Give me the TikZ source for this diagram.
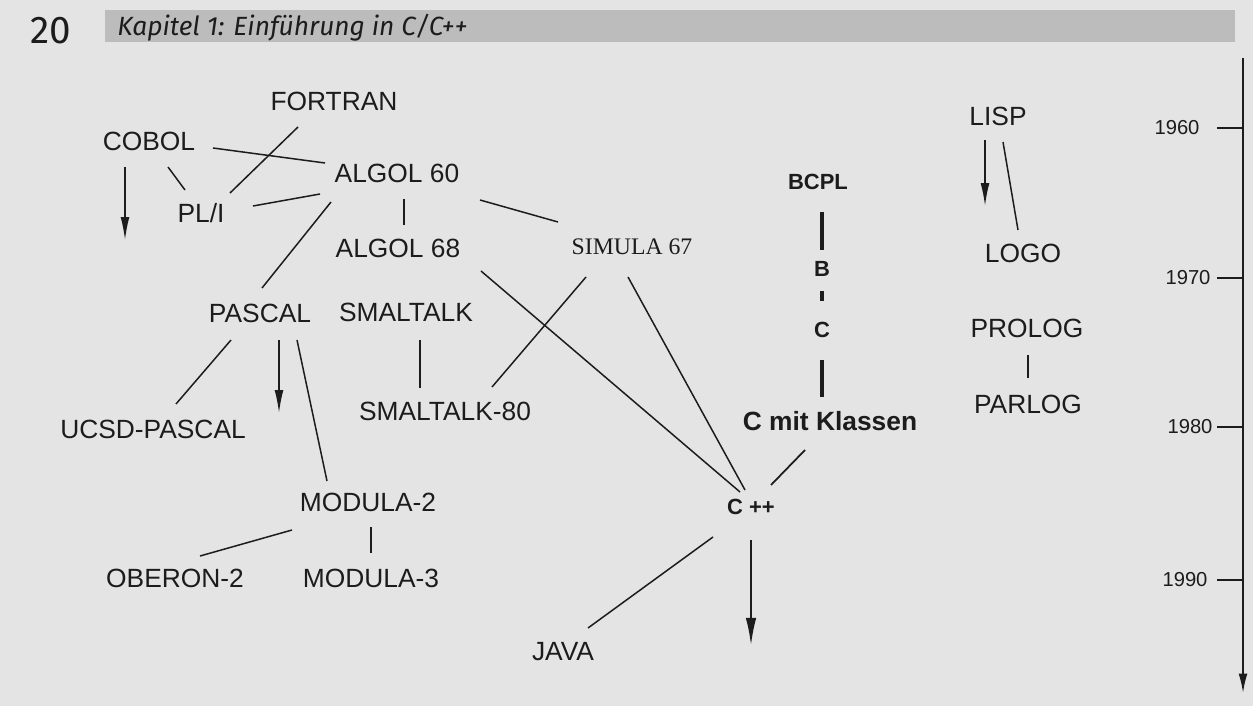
\documentclass[tikz,border=0pt]{standalone}
\usepackage{fontspec}
\setmainfont{Liberation Sans}
\newfontfamily\timesfont{Liberation Serif}
\newfontfamily\hdrfont{Fira Sans}
\usetikzlibrary{arrows.meta}
\definecolor{paper}{RGB}{228,228,228}
\definecolor{ink}{RGB}{28,28,28}
\definecolor{barcol}{RGB}{188,188,188}
\begin{document}
\begin{tikzpicture}[x=0.02cm,y=-0.02cm,
  lang/.style={font=\fontsize{15}{18}\selectfont, inner sep=0pt, text height=10.8pt, text depth=0pt, text=ink},
  langserif/.style={font={\timesfont\fontsize{13.5}{16}\selectfont}, inner sep=0pt, text height=9pt, text depth=0pt, text=ink},
  langbold/.style={font={\bfseries\fontsize{15}{18}\selectfont}, inner sep=0pt, text height=10.8pt, text depth=0pt, text=ink},
  langsmallbold/.style={font={\bfseries\fontsize{12.5}{15}\selectfont}, inner sep=0pt, text height=9pt, text depth=0pt, text=ink},
  yearlbl/.style={font=\fontsize{11.5}{14}\selectfont, inner sep=0pt, text=ink},
  link/.style={draw=ink, line width=0.85pt},
  thicklink/.style={draw=ink, line width=1.8pt},
  descent/.style={draw=ink, line width=0.9pt, -{Latex[length=13pt,width=5pt]}},
  bigdescent/.style={draw=ink, line width=1.4pt, -{Latex[length=16pt,width=6pt]}},
  timeaxis/.style={draw=ink, line width=1pt, -{Latex[length=11pt,width=5pt]}},
  tickmark/.style={draw=ink, line width=0.8pt}
]
\useasboundingbox (0,0) rectangle (1253,706);
\fill[paper] (0,0) rectangle (1253,706);

% header
\fill[barcol] (105,10) rectangle (1235,42);
\node[font={\hdrfont\fontsize{22}{26}\selectfont}, text=ink, inner sep=0pt] (pagenum) at (51,31) {20};
\node[font={\hdrfont\itshape\fontsize{15}{18}\selectfont}, text=ink, inner sep=0pt, anchor=west] (chapter) at (117,28) {Kapitel 1: Einführung in C/C++};

% language nodes
\node[lang] (fortran) at (334,101) {FORTRAN};
\node[lang] (cobol) at (149,141) {COBOL};
\node[lang] (algolsixty) at (397,173) {ALGOL 60};
\node[lang] (pli) at (201,213) {PL/I};
\node[lang] (algolsixtyeight) at (398,248) {ALGOL 68};
\node[langserif] (simula) at (632,247) {SIMULA 67};
\node[lang] (pascal) at (260,313) {PASCAL};
\node[lang] (smalltalk) at (406,312) {SMALTALK};
\node[lang] (ucsd) at (153,429) {UCSD-PASCAL};
\node[lang] (smalltalkeighty) at (445,411) {SMALTALK-80};
\node[lang] (modulatwo) at (368,502) {MODULA-2};
\node[lang] (oberon) at (175,578) {OBERON-2};
\node[lang] (modulathree) at (371,578) {MODULA-3};
\node[lang] (java) at (563,651) {JAVA};
\node[langsmallbold] (cpp) at (751,507) {C ++};
\node[langsmallbold] (bcpl) at (818,182) {BCPL};
\node[langsmallbold] (b) at (822,269) {B};
\node[langsmallbold] (c) at (822,330) {C};
\node[langbold] (cmk) at (830,421) {C mit Klassen};
\node[lang] (lisp) at (998,116) {LISP};
\node[lang] (logo) at (1023,253) {LOGO};
\node[lang] (prolog) at (1027,328) {PROLOG};
\node[lang] (parlog) at (1028,404) {PARLOG};

% free ends of arrows
\coordinate (cobolend) at (125,240);
\coordinate (pascalend) at (279,413);
\coordinate (cppend) at (751,646);
\coordinate (lispend) at (985,206);

% connectors
\draw[link] ([shift={(64,7)}]cobol.center) -- ([shift={(-72,-10)}]algolsixty.center);
\draw[link] ([shift={(-36,26)}]fortran.center) -- ([shift={(29,-20)}]pli.center);
\draw[link] ([shift={(19,26)}]cobol.center) -- ([shift={(-16,-23)}]pli.center);
\draw[link] ([shift={(52,-7)}]pli.center) -- ([shift={(-77,21)}]algolsixty.center);
\draw[link] ([shift={(7,26)}]algolsixty.center) -- ([shift={(6,-23)}]algolsixtyeight.center);
\draw[link] ([shift={(-66,29)}]algolsixty.center) -- ([shift={(2,-25)}]pascal.center);
\draw[link] ([shift={(83,27)}]algolsixty.center) -- ([shift={(-74,-25)}]simula.center);
\draw[descent] ([shift={(-24,26)}]cobol.center) -- (cobolend);
\draw[link] ([shift={(83,23)}]algolsixtyeight.center) -- ([shift={(-11,-15)}]cpp.center);
\draw[link] ([shift={(-46,30)}]simula.center) -- ([shift={(47,-24)}]smalltalkeighty.center);
\draw[link] ([shift={(-4,30)}]simula.center) -- ([shift={(-6,-17)}]cpp.center);
\draw[link] ([shift={(14,28)}]smalltalk.center) -- ([shift={(-25,-23)}]smalltalkeighty.center);
\draw[link] ([shift={(-29,27)}]pascal.center) -- ([shift={(23,-25)}]ucsd.center);
\draw[descent] ([shift={(19,27)}]pascal.center) -- (pascalend);
\draw[link] ([shift={(37,27)}]pascal.center) -- ([shift={(-41,-21)}]modulatwo.center);
\draw[link] ([shift={(-76,28)}]modulatwo.center) -- ([shift={(25,-22)}]oberon.center);
\draw[link] ([shift={(3,25)}]modulatwo.center) -- ([shift={(0,-25)}]modulathree.center);
\draw[link] ([shift={(-38,30)}]cpp.center) -- ([shift={(25,-23)}]java.center);
\draw[bigdescent] ([shift={(0,33)}]cpp.center) -- (cppend);
\draw[link, line width=1pt] ([shift={(-25,29)}]cmk.center) -- ([shift={(20,-22)}]cpp.center);
\draw[thicklink] ([shift={(4,30)}]bcpl.center) -- ([shift={(0,-19)}]b.center);
\draw[thicklink] ([shift={(0,22)}]b.center) -- ([shift={(0,-29)}]c.center);
\draw[thicklink] ([shift={(0,30)}]c.center) -- ([shift={(-8,-24)}]cmk.center);
\draw[descent] ([shift={(-13,24)}]lisp.center) -- (lispend);
\draw[link] ([shift={(5,26)}]lisp.center) -- ([shift={(-5,-23)}]logo.center);
\draw[link] ([shift={(1,27)}]prolog.center) -- ([shift={(0,-26)}]parlog.center);

% time axis
\coordinate (axistop) at (1243,58);
\coordinate (axisbottom) at (1243,693);
\draw[timeaxis] (axistop) -- (axisbottom);
\foreach \yr/\yy/\lx in {1960/128/1177, 1970/278/1188, 1980/427/1190, 1990/580/1185}{
  \draw[tickmark] (1217,\yy) -- (1243,\yy);
  \node[yearlbl] at (\lx,\yy) {\yr};
}
\end{tikzpicture}
\end{document}
